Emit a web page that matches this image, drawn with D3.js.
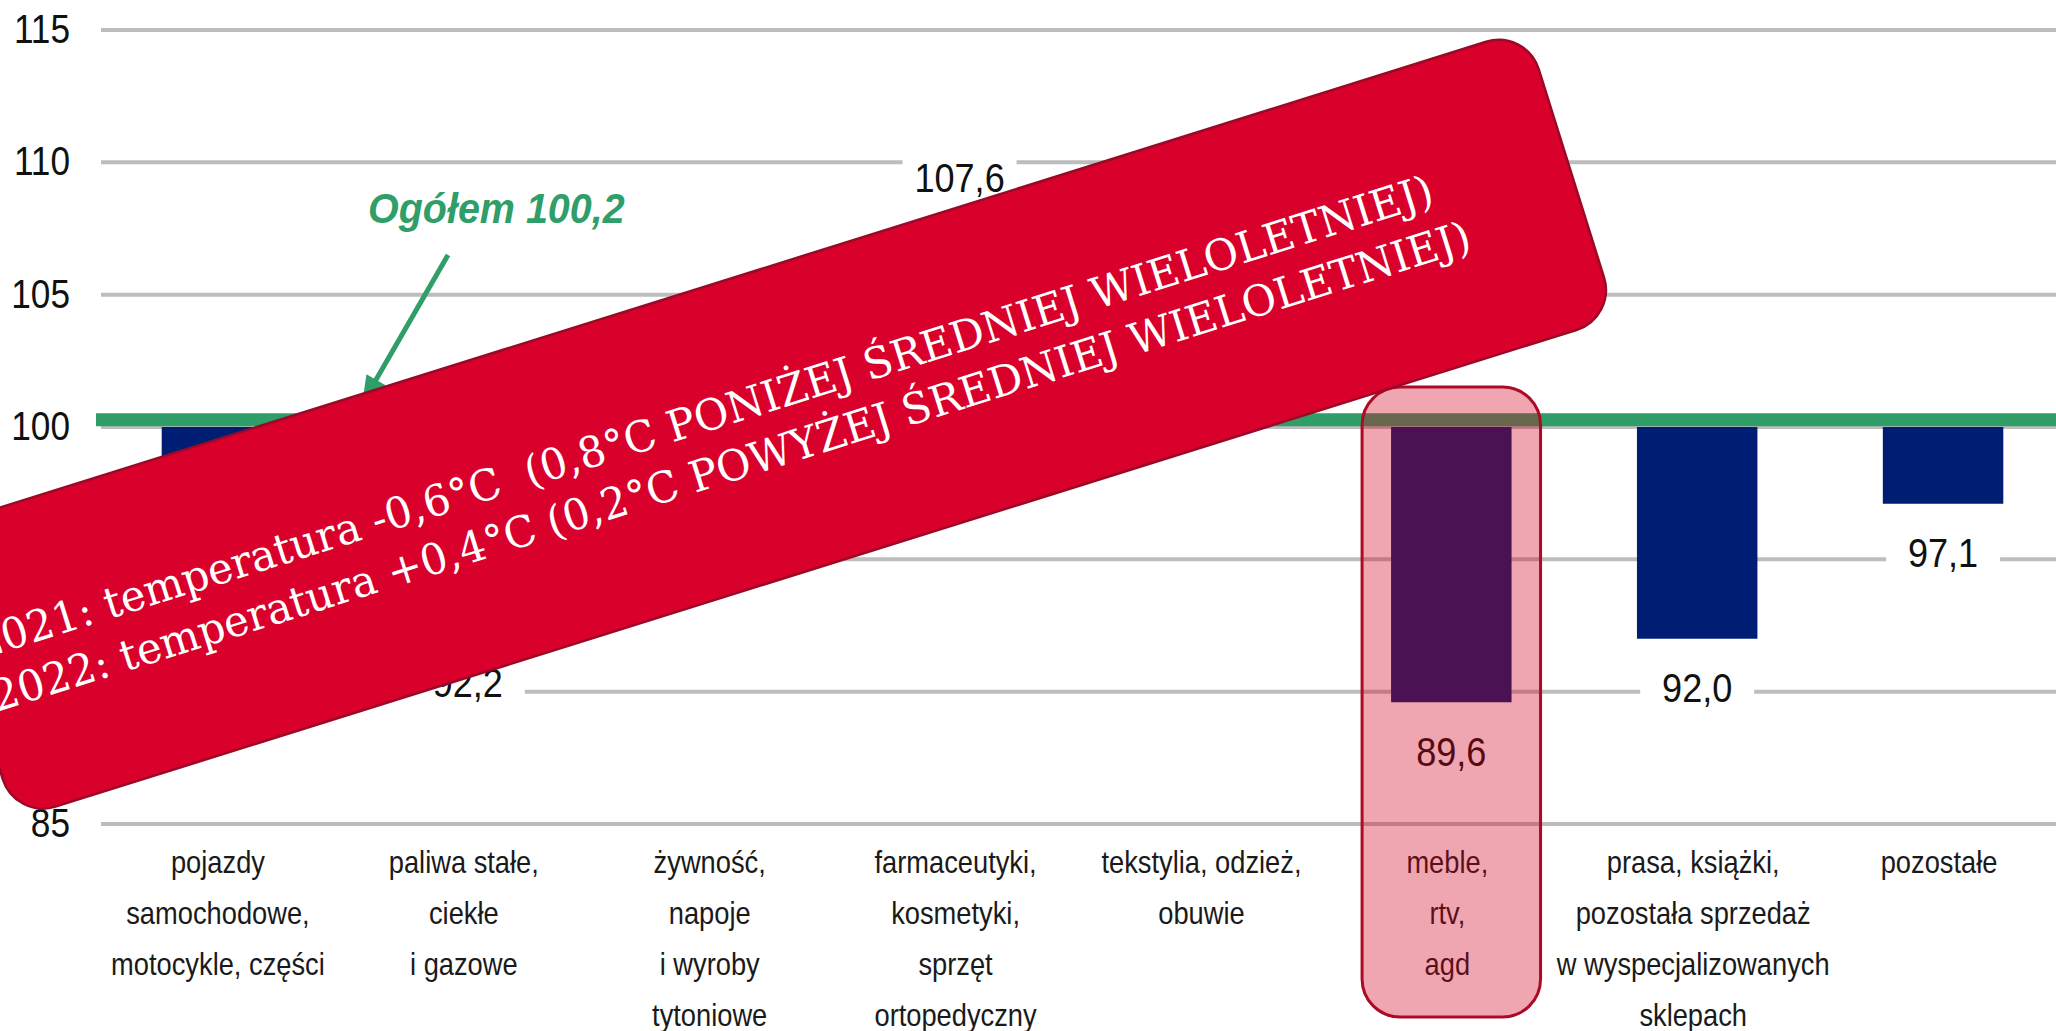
<!DOCTYPE html>
<html>
<head>
<meta charset="utf-8">
<script src="https://cdn.jsdelivr.net/npm/d3@7/dist/d3.min.js"></script>
<style>
  body { margin: 0; background: #fff; }
  svg { display: block; }
</style>
</head>
<body>
<div id="chart"></div>
<script>
// data (three bars are hidden under the banner, values estimated)
const categories = ['pojazdy', 'paliwa', 'zywnosc', 'farmaceutyki', 'tekstylia', 'meble', 'prasa', 'pozostale']
const categoryLabels = [
  ['pojazdy', 'samochodowe,', 'motocykle, części'],
  ['paliwa stałe,', 'ciekłe', 'i gazowe'],
  ['żywność,', 'napoje', 'i wyroby', 'tytoniowe'],
  ['farmaceutyki,', 'kosmetyki,', 'sprzęt', 'ortopedyczny'],
  ['tekstylia, odzież,', 'obuwie'],
  ['meble,', 'rtv,', 'agd'],
  ['prasa, książki,', 'pozostała sprzedaż', 'w wyspecjalizowanych', 'sklepach'],
  ['pozostałe']
]
const values = [96.1, 92.2, 99.1, 107.6, 103.2, 89.6, 92.0, 97.1]
const yTicks = [85, 90, 95, 100, 105, 110, 115]
const baseValue = 100
const ogolem = 100.2
const ogolemLabel = 'Ogółem 100,2'
const highlighted = 'meble'
const bannerLines = [
  '2021: temperatura -0,6°C  (0,8°C PONIŻEJ ŚREDNIEJ WIELOLETNIEJ)',
  '2022: temperatura +0,4°C (0,2°C POWYŻEJ ŚREDNIEJ WIELOLETNIEJ)'
]

const width = 2056
const height = 1031
const green = '#2f9e68'
const navy = '#001d74'
const sx = 0.88 // the source text is a little condensed

const fmt = v => d3.format('.1f')(v).replace('.', ',')

const svg = d3.select('#chart').append('svg')
  .attr('width', width)
  .attr('height', height)
  .style('font-family', '"Liberation Sans", Arial, sans-serif')

const xScale = d3.scaleBand()
  .domain(categories)
  .range([99, 2066])
  .paddingInner(0.51)
  .paddingOuter(0.255)

const yScale = d3.scaleLinear()
  .domain([85, 115])
  .range([824, 30])

// gridlines
svg.append('g')
  .selectAll('line')
  .data(yTicks)
  .join('line')
  .attr('x1', 101)
  .attr('x2', width)
  .attr('y1', d => yScale(d))
  .attr('y2', d => yScale(d))
  .attr('stroke', '#bdbdbd')
  .attr('stroke-width', 4)

// y tick labels
svg.append('g')
  .selectAll('text')
  .data(yTicks)
  .join('text')
  .attr('transform', d => `translate(70,${yScale(d) + 13}) scale(${sx},1)`)
  .attr('text-anchor', 'end')
  .attr('font-size', 40)
  .attr('fill', '#111')
  .text(d => d)

// bars from the 100 baseline
const data = categories.map((c, i) => ({ c, v: values[i], lines: categoryLabels[i] }))

svg.append('g')
  .selectAll('rect')
  .data(data)
  .join('rect')
  .attr('x', d => xScale(d.c))
  .attr('width', xScale.bandwidth())
  .attr('y', d => yScale(Math.max(d.v, baseValue)))
  .attr('height', d => Math.abs(yScale(d.v) - yScale(baseValue)))
  .attr('fill', navy)

// value labels with white boxes
const labelG = svg.append('g')
  .selectAll('g')
  .data(data)
  .join('g')
  .attr('transform', d => {
    const cx = xScale(d.c) + xScale.bandwidth() / 2
    const cy = d.v >= baseValue ? yScale(d.v) - 48.5 : yScale(d.v) + 48.5
    return `translate(${cx},${cy})`
  })

labelG.append('rect')
  .attr('x', -57)
  .attr('y', -20)
  .attr('width', 114)
  .attr('height', 40)
  .attr('fill', '#fff')

labelG.append('text')
  .attr('transform', `translate(0,15) scale(${sx},1)`)
  .attr('text-anchor', 'middle')
  .attr('font-size', 41)
  .attr('fill', '#111')
  .text(d => fmt(d.v))

// category labels
svg.append('g')
  .selectAll('text')
  .data(data)
  .join('text')
  .attr('transform', d => `translate(${xScale(d.c) + xScale.bandwidth() / 2 - 4},873) scale(${sx},1)`)
  .attr('text-anchor', 'middle')
  .attr('font-size', 31)
  .attr('fill', '#1a1a1a')
  .selectAll('tspan')
  .data(d => d.lines)
  .join('tspan')
  .attr('x', 0)
  .attr('dy', (d, i) => i === 0 ? 0 : 51)
  .text(d => d)

// "ogółem" line, label and arrow
svg.append('line')
  .attr('x1', 96)
  .attr('x2', width)
  .attr('y1', yScale(ogolem) - 2)
  .attr('y2', yScale(ogolem) - 2)
  .attr('stroke', green)
  .attr('stroke-width', 13)

svg.append('text')
  .attr('transform', `translate(368,223) scale(0.94,1)`)
  .attr('font-size', 42)
  .attr('font-weight', 'bold')
  .attr('font-style', 'italic')
  .attr('fill', green)
  .text(ogolemLabel)

const arrowFrom = [448, 255]
const arrowTip = [362, 404]
const len = Math.hypot(arrowTip[0] - arrowFrom[0], arrowTip[1] - arrowFrom[1])
const ux = (arrowTip[0] - arrowFrom[0]) / len
const uy = (arrowTip[1] - arrowFrom[1]) / len
const headLen = 28
const headHalf = 11
const base = [arrowTip[0] - ux * headLen, arrowTip[1] - uy * headLen]

svg.append('line')
  .attr('x1', arrowFrom[0])
  .attr('y1', arrowFrom[1])
  .attr('x2', base[0] + ux * 4)
  .attr('y2', base[1] + uy * 4)
  .attr('stroke', green)
  .attr('stroke-width', 5)

svg.append('path')
  .attr('d', d3.line()([
    arrowTip,
    [base[0] - uy * headHalf, base[1] + ux * headHalf],
    [base[0] + uy * headHalf, base[1] - ux * headHalf]
  ]) + 'Z')
  .attr('fill', green)

// highlight box around meble, rtv, agd
svg.append('rect')
  .attr('x', xScale(highlighted) - 29)
  .attr('width', xScale.bandwidth() + 58)
  .attr('y', yScale(baseValue) - 40)
  .attr('height', 1017 - (yScale(baseValue) - 40))
  .attr('rx', 38)
  .attr('fill', 'rgba(212,0,29,0.35)')
  .attr('stroke', '#ad0a26')
  .attr('stroke-width', 3)

// red banner on top
const banner = svg.append('g')
  .attr('transform', 'translate(-75,531) rotate(-17.4)')

banner.append('rect')
  .attr('width', 1678)
  .attr('height', 302)
  .attr('rx', 42)
  .attr('fill', '#d9002b')
  .attr('stroke', '#9a0a26')
  .attr('stroke-width', 2.5)

banner.selectAll('text')
  .data(bannerLines)
  .join('text')
  .attr('x', 15)
  .attr('y', (d, i) => 139 + i * 55)
  .attr('textLength', (d, i) => i === 0 ? 1525 : 1547)
  .attr('lengthAdjust', 'spacingAndGlyphs')
  .attr('font-family', '"DejaVu Serif", "Liberation Serif", serif')
  .attr('font-size', 43)
  .attr('fill', '#fff')
  .style('white-space', 'pre')
  .text(d => d)
</script>
</body>
</html>
